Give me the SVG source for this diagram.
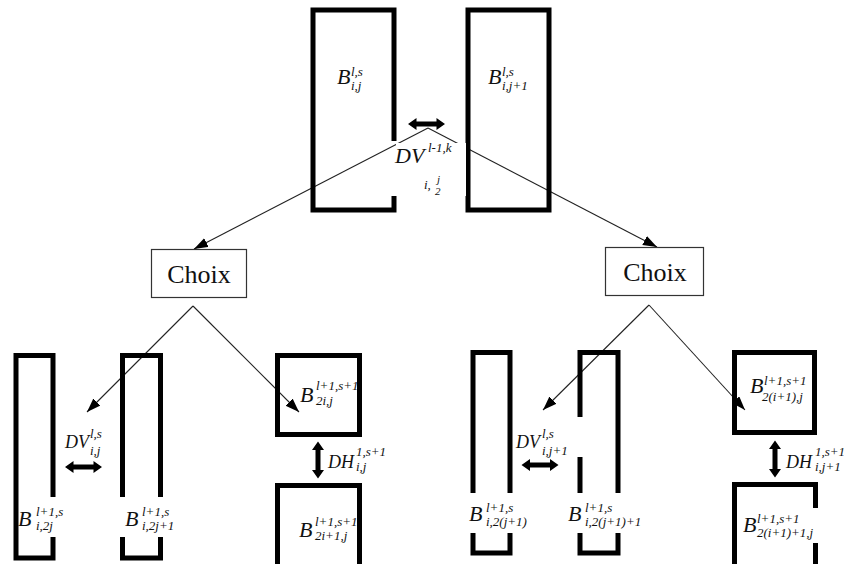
<svg xmlns="http://www.w3.org/2000/svg" xmlns:xlink="http://www.w3.org/1999/xlink" width="848" height="564" viewBox="0 0 848 564">
<style>
.blk{fill:none;stroke:#000;stroke-width:5;stroke-linejoin:miter;stroke-linecap:butt}
.conn{stroke:#222;stroke-width:1.1;fill:none;marker-end:url(#ah)}
.ch{fill:#fff;stroke:#333;stroke-width:1.2}
.ct{font-family:"Liberation Serif","Times New Roman",serif;font-size:26px;text-anchor:middle;fill:#111}
.m{font-family:"Liberation Serif","Times New Roman",serif;font-style:italic;font-size:22px;fill:#111}
.m2{font-size:18px}
.s{font-size:13px}
.f{font-size:11px}
.dbl{fill:#000}
</style>
<defs>
<marker id="ah" markerUnits="userSpaceOnUse" markerWidth="15" markerHeight="11" refX="14" refY="5" orient="auto">
<path d="M0,0 L14,5 L0,10 Z" fill="#000"/>
</marker>
<path id="dbl" d="M-18.5,0 L-10,-6 L-10,-2.5 L10,-2.5 L10,-6 L18.5,0 L10,6 L10,2.5 L-10,2.5 L-10,6 Z"/>
</defs>
<rect width="848" height="564" fill="#fff"/>

<g id="connectors">
<line class="conn" x1="428" y1="128" x2="194" y2="249"/>
<line class="conn" x1="428" y1="128" x2="657" y2="247"/>
<line class="conn" x1="193" y1="306" x2="87" y2="412"/>
<line class="conn" x1="193" y1="306" x2="299" y2="412"/>
<line class="conn" x1="649" y1="305" x2="543" y2="410"/>
<line class="conn" x1="649" y1="305" x2="745" y2="410"/>
<use xlink:href="#dbl" class="dbl" transform="translate(426.5,124)"/>
<use xlink:href="#dbl" class="dbl" transform="translate(83.5,467)"/>
<use xlink:href="#dbl" class="dbl" transform="translate(540,465)"/>
<use xlink:href="#dbl" class="dbl" transform="translate(318,460) rotate(90)"/>
<use xlink:href="#dbl" class="dbl" transform="translate(775,459) rotate(90)"/>
</g>

<g id="B_ls_ij">
<path class="blk" d="M394,141 V10 H313 V210 H394 V196"/>
<text class="m" x="337" y="84">B<tspan class="s" x="351" y="76">l,s</tspan><tspan class="s" x="351" y="90">i,j</tspan></text>
</g>

<g id="B_ls_ij1">
<rect class="blk" x="468" y="10" width="81" height="200"/>
<text class="m" x="488" y="84">B<tspan class="s" x="502" y="76">l,s</tspan><tspan class="s" x="502" y="90">i,j+1</tspan></text>
</g>

<g id="DV_top">
<rect x="396" y="143" width="70" height="53" fill="#fff"/>
<text class="m" x="395" y="163">DV<tspan class="s" x="428" y="152">l-1,k</tspan><tspan class="s" x="424" y="189">i,</tspan><tspan class="f" x="437" y="183">j</tspan><tspan class="f" x="435" y="195">2</tspan></text>
</g>

<g id="choix_left">
<rect class="ch" x="151.5" y="249.5" width="95" height="48"/>
<text class="ct" x="199" y="283">Choix</text>
</g>

<g id="choix_right">
<rect class="ch" x="605.5" y="247.5" width="98" height="48"/>
<text class="ct" x="655" y="281">Choix</text>
</g>

<g id="B_l1s_i2j">
<path class="blk" d="M53,497 V355.5 H16 V558 H53 V537"/>
<text class="m" x="18" y="526">B<tspan class="s" x="36" y="516">l+1,s</tspan><tspan class="s" x="36" y="530">i,2j</tspan></text>
</g>

<g id="B_l1s_i2j1">
<path class="blk" d="M122.5,497 V355.5 H160.5 V497 M122.5,537 V558 H160.5 V537"/>
<text class="m" x="125" y="526">B<tspan class="s" x="142" y="516">l+1,s</tspan><tspan class="s" x="142" y="530">i,2j+1</tspan></text>
</g>

<g id="DV_ij">
<text class="m m2" x="65" y="448">DV<tspan class="s" x="90" y="438">l,s</tspan><tspan class="s" x="90" y="455">i,j</tspan></text>
</g>

<g id="B_l1s1_2ij">
<rect class="blk" x="277.5" y="355.5" width="82" height="79"/>
<text class="m" x="300" y="402">B<tspan class="s" x="316" y="390">l+1,s+1</tspan><tspan class="s" x="316" y="405">2i,j</tspan></text>
</g>

<g id="DH_ij">
<text class="m m2" x="328" y="468">DH<tspan class="s" x="356" y="456">1,s+1</tspan><tspan class="s" x="356" y="471">i,j</tspan></text>
</g>

<g id="B_l1s1_2i1j">
<path class="blk" d="M277.5,570 V485.5 H359.5 V570"/>
<text class="m" x="299" y="537">B<tspan class="s" x="315" y="526">l+1,s+1</tspan><tspan class="s" x="315" y="540">2i+1,j</tspan></text>
</g>

<g id="B_l1s_i2j_1">
<path class="blk" d="M473,493 V352.5 H510 V493 M473,533 V553 H510 V533"/>
<text class="m" x="469" y="521">B<tspan class="s" x="486" y="512">l+1,s</tspan><tspan class="s" x="486" y="526">i,2(j+1)</tspan></text>
</g>

<g id="B_l1s_i2j_1_1">
<path class="blk" d="M580,417 V352.5 H618 V493 M580,457 V493 M580,533 V553 H618 V533"/>
<text class="m" x="568" y="521">B<tspan class="s" x="585" y="512">l+1,s</tspan><tspan class="s" x="585" y="526">i,2(j+1)+1</tspan></text>
</g>

<g id="DV_ij1">
<text class="m m2" x="516" y="448">DV<tspan class="s" x="542" y="438">l,s</tspan><tspan class="s" x="542" y="455">i,j+1</tspan></text>
</g>

<g id="B_l1s1_2i1_j">
<rect class="blk" x="734.5" y="352.5" width="80" height="80"/>
<text class="m" x="750" y="393">B<tspan class="s" x="764" y="385">l+1,s+1</tspan><tspan class="s" x="762" y="401">2(i+1),j</tspan></text>
</g>

<g id="DH_ij1">
<text class="m m2" x="786" y="468">DH<tspan class="s" x="815" y="456">1,s+1</tspan><tspan class="s" x="815" y="471">i,j+1</tspan></text>
</g>

<g id="B_l1s1_2i11_j">
<path class="blk" d="M815.5,508 V484.5 H734.5 V570 M815.5,543 V570"/>
<text class="m" x="743" y="532">B<tspan class="s" x="757" y="523">l+1,s+1</tspan><tspan class="s" x="757" y="537">2(i+1)+1,j</tspan></text>
</g>
</svg>
